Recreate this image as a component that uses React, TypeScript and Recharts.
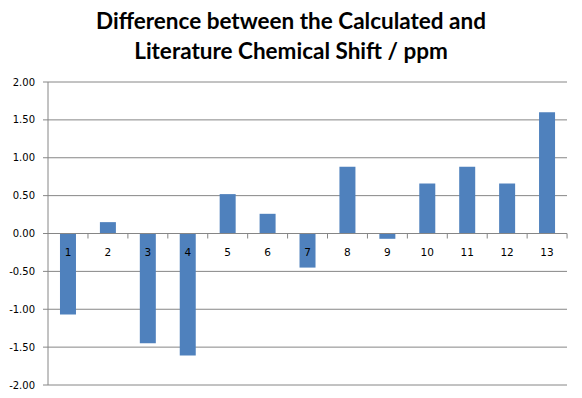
import { BarChart, Bar, XAxis, YAxis, CartesianGrid, ReferenceLine, LabelList } from "recharts";

const categories = ["1", "2", "3", "4", "5", "6", "7", "8", "9", "10", "11", "12", "13"];
const shiftDiff = [-1.07, 0.15, -1.45, -1.61, 0.52, 0.26, -0.45, 0.88, -0.07, 0.66, 0.88, 0.66, 1.6];
const yTicks = [-2, -1.5, -1, -0.5, 0, 0.5, 1, 1.5, 2];
const titleLines = ["Difference between the Calculated and", "Literature Chemical Shift / ppm"];

const data = categories.map((c, i) => ({ name: c, value: shiftDiff[i] }));

const GRID = "#868686";
const BAR = "#4f81bd";
const GAP = 0.3;

/** Category label + boundary tick drawn on the zero line, like Excel does. */
function ZeroAxisLabel(props: any) {
  const { x, y, width, height, value } = props;
  const zeroY = y + height;
  const cx = x + width / 2;
  const slot = width / (1 - 2 * GAP);
  return (
    <g>
      <line x1={cx + slot / 2} x2={cx + slot / 2} y1={zeroY} y2={zeroY + 5} stroke={GRID} />
      <text
        x={cx}
        y={zeroY + 22}
        textAnchor="middle"
        style={{ fontFamily: "DejaVu Sans", fontSize: 10.5 }}
        fill="#000"
      >
        {value}
      </text>
    </g>
  );
}

export default function App() {
  return (
    <div style={{ position: "absolute", left: 0, top: 0, width: 582, height: 398, background: "#fff" }}>
      <div
        style={{
          position: "absolute",
          top: 6,
          left: 0,
          width: 582,
          textAlign: "center",
          fontFamily: "Lato",
          fontWeight: 700,
          fontSize: 22.5,
          lineHeight: "30px",
          color: "#000",
        }}
      >
        {titleLines.map((t) => (
          <div key={t}>{t}</div>
        ))}
      </div>
      <BarChart
        width={582}
        height={398}
        data={data}
        margin={{ top: 82, right: 15, bottom: 13, left: 0 }}
        barCategoryGap={`${GAP * 100}%`}
      >
        <CartesianGrid vertical={false} stroke={GRID} />
        <XAxis dataKey="name" hide />
        <YAxis
          domain={[-2, 2]}
          ticks={yTicks}
          width={48}
          tickFormatter={(v: number) => v.toFixed(2)}
          axisLine={{ stroke: GRID }}
          tickLine={{ stroke: GRID }}
          tickSize={5}
          tickMargin={8}
          tick={{ fontFamily: "DejaVu Sans", fontSize: 10, fill: "#000" }}
        />
        <ReferenceLine y={0} stroke={GRID} />
        <Bar dataKey="value" fill={BAR} isAnimationActive={false}>
          <LabelList dataKey="name" content={<ZeroAxisLabel />} />
        </Bar>
      </BarChart>
    </div>
  );
}
